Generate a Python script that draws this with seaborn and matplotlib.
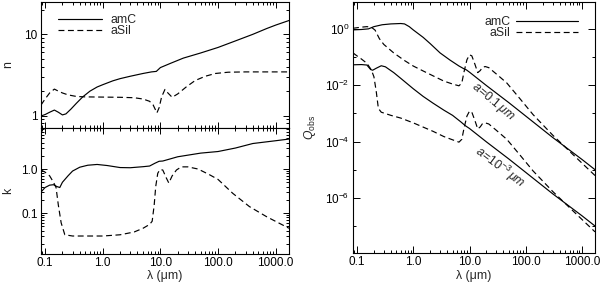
import numpy as np
import pandas as pd
import matplotlib
matplotlib.use("Agg")
import matplotlib.pyplot as plt
import seaborn as sns
from matplotlib.ticker import FixedLocator, FixedFormatter, LogLocator, NullFormatter

# ---------------- data ----------------
# refractive index n
n_amc_lam = [0.085, 0.10, 0.12, 0.145, 0.17, 0.20, 0.23, 0.28, 0.35, 0.45, 0.6, 0.8, 1.0, 1.5, 2.0, 3.0,
             5.0, 7.0, 8.5, 10, 15, 25, 50, 100, 200, 400, 700, 1000, 1700]
n_amc = [0.99, 1.03, 1.10, 1.17, 1.10, 1.02, 1.05, 1.2, 1.42, 1.7, 2.0, 2.25, 2.4, 2.68, 2.85, 3.05,
         3.3, 3.45, 3.5, 3.9, 4.4, 5.1, 5.9, 6.9, 8.3, 10.0, 11.8, 13.0, 14.8]
n_asil_lam = [0.085, 0.10, 0.12, 0.145, 0.17, 0.2, 0.25, 0.35, 0.5, 1, 2, 3.5, 5, 6.5, 7.5, 8.7, 9.5,
              10.5, 12, 13.5, 16, 20, 28, 40, 60, 90, 150, 300, 1700]
n_asil = [1.35, 1.6, 1.9, 2.12, 2.0, 1.9, 1.8, 1.72, 1.7, 1.69, 1.68, 1.66, 1.6, 1.5, 1.35, 1.08, 1.25,
          1.7, 2.1, 1.9, 1.68, 1.85, 2.25, 2.7, 3.05, 3.3, 3.42, 3.45, 3.45]

# absorption index k
k_amc_lam = [0.085, 0.1, 0.12, 0.14, 0.16, 0.18, 0.2, 0.25, 0.3, 0.4, 0.55, 0.8, 1.2, 2, 3, 5, 6.5, 8.0,
             9.5, 11, 20, 50, 100, 200, 400, 1000, 1700]
k_amc = [0.3, 0.38, 0.43, 0.44, 0.40, 0.38, 0.5, 0.7, 0.9, 1.1, 1.22, 1.27, 1.2, 1.08, 1.07, 1.13, 1.17,
         1.35, 1.5, 1.52, 1.9, 2.3, 2.5, 3.0, 3.8, 4.4, 4.8]
k_asil_lam = [0.085, 0.1, 0.12, 0.14, 0.155, 0.17, 0.19, 0.22, 0.3, 1, 2, 3.5, 5, 6.5, 7.2, 7.8, 8.3, 9,
              9.8, 11, 12.5, 14, 16, 19, 23, 30, 45, 70, 100, 180, 350, 700, 1700]
k_asil = [0.95, 0.85, 0.7, 0.5, 0.38, 0.15, 0.06, 0.032, 0.03, 0.03, 0.032, 0.037, 0.045, 0.055, 0.065,
          0.15, 0.4, 0.8, 0.97, 0.95, 0.65, 0.48, 0.7, 0.95, 1.12, 1.12, 1.0, 0.75, 0.58, 0.28, 0.14,
          0.082, 0.045]

# Q_abs, a = 0.1 micron
q1_amc_lam = [0.085, 0.12, 0.16, 0.2, 0.28, 0.4, 0.6, 0.7, 0.85, 1.0, 1.5, 2.0, 3.0, 4.5, 6.5, 8.0, 8.8,
              10, 20, 50, 100, 300, 1000, 1700]
q1_amc = [0.92, 0.95, 1.0, 1.2, 1.4, 1.5, 1.55, 1.5, 1.2, 0.92, 0.5, 0.3, 0.14, 0.078, 0.048, 0.038,
          0.035, 0.029, 0.0097, 2.4e-3, 8.0e-4, 1.4e-4, 2.3e-5, 1.0e-5]
q1_asil_lam = [0.085, 0.12, 0.15, 0.18, 0.21, 0.25, 0.3, 0.45, 0.7, 1.0, 1.5, 2.25, 3.5, 5, 6.5, 7.3, 8,
               9, 10, 11, 12.5, 14, 15.5, 17, 19, 22, 30, 46, 80, 135, 300, 600, 1000, 1700]
q1_asil = [1.05, 1.15, 1.2, 1.15, 0.9, 0.45, 0.28, 0.14, 0.075, 0.048, 0.032, 0.0215, 0.014, 0.011,
           0.0095, 0.012, 0.03, 0.08, 0.12, 0.11, 0.055, 0.028, 0.033, 0.043, 0.046, 0.042, 0.025,
           0.012, 3.2e-3, 9e-4, 1.7e-4, 4.5e-5, 1.7e-5, 6.2e-6]

# Q_abs, a = 1e-3 micron
q2_amc_lam = [0.085, 0.12, 0.15, 0.175, 0.19, 0.22, 0.27, 0.32, 0.45, 0.6, 1.0, 1.5, 2.25, 3.5, 5, 7,
              8.5, 10, 20, 50, 100, 300, 1000, 1700]
q2_amc = [0.053, 0.054, 0.052, 0.036, 0.034, 0.04, 0.049, 0.045, 0.028, 0.0175, 0.0075, 0.004, 0.0023,
          0.0013, 8.5e-4, 5.0e-4, 3.6e-4, 2.9e-4, 9.7e-5, 2.4e-5, 8.0e-6, 1.4e-6, 2.3e-7, 1.0e-7]
q2_asil_lam = [0.085, 0.1, 0.12, 0.15, 0.18, 0.2, 0.22, 0.24, 0.27, 0.4, 0.6, 1.0, 2.25, 3.5, 5, 6.5,
               7.3, 8, 9, 10, 11, 12.5, 14, 15.5, 17, 19, 22, 30, 46, 80, 135, 300, 600, 1000, 1700]
q2_asil = [0.14, 0.11, 0.085, 0.06, 0.035, 0.02, 0.006, 0.0015, 1.1e-3, 8.5e-4, 6.8e-4, 4.6e-4, 2.3e-4,
           1.5e-4, 1.15e-4, 9.5e-5, 1.2e-4, 3.0e-4, 8e-4, 1.2e-3, 1.1e-3, 5.5e-4, 2.8e-4, 3.3e-4,
           4.3e-4, 4.6e-4, 4.2e-4, 2.5e-4, 1.2e-4, 3.2e-5, 9e-6, 1.7e-6, 4.5e-7, 1.7e-7, 6.2e-8]

x_ticks = [0.1, 1, 10, 100, 1000]
x_ticklabels = ["0.1", "1.0", "10.0", "100.0", "1000.0"]

# ---------------- style ----------------
sns.set_style("ticks")
plt.rcParams['font.family'] = ['Liberation Sans', 'DejaVu Sans']
plt.rcParams['mathtext.fontset'] = 'custom'
plt.rcParams['mathtext.rm'] = 'Liberation Sans'
plt.rcParams['mathtext.it'] = 'Liberation Sans:italic'
plt.rcParams['axes.linewidth'] = 0.8
FS = 8.8
TFS = 8.5

fig = plt.figure(figsize=(6, 2.88), dpi=100)
W, H = 600.0, 288.0
ax1 = fig.add_axes([41 / W, 1 - 127.7 / H, 248 / W, 125.7 / H])
ax2 = fig.add_axes([41 / W, 1 - 254 / H, 248 / W, 126.3 / H])
ax3 = fig.add_axes([353 / W, 1 - 253 / H, 242 / W, 251 / H])

LW = 0.85
DASH = [5.0, 3.0]


def draw(ax, lam, val, dashed):
    sns.lineplot(x=lam, y=val, ax=ax, color='black', lw=LW, sort=False, estimator=None)
    ln = ax.lines[-1]
    if dashed:
        ln.set_dashes(DASH)
    return ln


h1 = draw(ax1, n_amc_lam, n_amc, False)
h2 = draw(ax1, n_asil_lam, n_asil, True)
draw(ax2, k_amc_lam, k_amc, False)
draw(ax2, k_asil_lam, k_asil, True)
g1 = draw(ax3, q1_amc_lam, q1_amc, False)
g2 = draw(ax3, q1_asil_lam, q1_asil, True)
draw(ax3, q2_amc_lam, q2_amc, False)
draw(ax3, q2_asil_lam, q2_asil, True)

for ax in (ax1, ax2, ax3):
    ax.set_xscale('log')
    ax.set_yscale('log')
    ax.set_xlim(0.085, 1700)
    ax.xaxis.set_major_locator(FixedLocator(x_ticks))
    ax.xaxis.set_major_formatter(FixedFormatter(x_ticklabels))
    ax.xaxis.set_minor_locator(LogLocator(base=10, subs=np.arange(2, 10)))
    ax.xaxis.set_minor_formatter(NullFormatter())
    ax.tick_params(which='both', direction='in', top=True, right=True, labelsize=TFS, width=0.7,
                   colors='black')
    ax.tick_params(axis='x', which='both', pad=2.5)
    ax.tick_params(axis='y', which='both', pad=2.5)
    for s in ax.spines.values():
        s.set_linewidth(0.8)
        s.set_color('black')
    ax.set_xlabel('')
    ax.set_ylabel('')

for ax in (ax1, ax2):
    ax.tick_params(which='major', length=4)
    ax.tick_params(which='minor', length=2)
ax3.tick_params(which='major', length=5)
ax3.tick_params(which='minor', length=2.5)

ax1.set_ylim(0.71, 25)
ax1.yaxis.set_major_locator(FixedLocator([1, 10]))
ax1.yaxis.set_major_formatter(FixedFormatter(['1', '10']))
ax1.yaxis.set_minor_locator(LogLocator(base=10, subs=np.arange(2, 10)))
ax1.yaxis.set_minor_formatter(NullFormatter())
ax1.tick_params(labelbottom=False)

ax2.set_ylim(0.0117, 8.7)
ax2.yaxis.set_major_locator(FixedLocator([0.1, 1]))
ax2.yaxis.set_major_formatter(FixedFormatter(['0.1', '1.0']))
ax2.yaxis.set_minor_locator(LogLocator(base=10, subs=np.arange(2, 10)))
ax2.yaxis.set_minor_formatter(NullFormatter())

ax3.set_ylim(1.1e-8, 9)
ax3.yaxis.set_major_locator(FixedLocator([1, 1e-2, 1e-4, 1e-6]))
ax3.yaxis.set_major_formatter(FixedFormatter([r'$10^{0}$', r'$10^{-2}$', r'$10^{-4}$', r'$10^{-6}$']))
ax3.yaxis.set_minor_locator(FixedLocator([1e-1, 1e-3, 1e-5, 1e-7]))
ax3.yaxis.set_minor_formatter(NullFormatter())

# axis titles
ax1.set_ylabel('n', fontsize=FS)
ax1.yaxis.set_label_coords(-0.11, 0.5)
ax2.set_ylabel('k', fontsize=FS)
ax2.yaxis.set_label_coords(-0.11, 0.5)
ax3.set_ylabel(r'$Q_{\rm obs}$', fontsize=FS)
ax3.yaxis.set_label_coords(-0.145, 0.5)
ax2.set_xlabel('λ (μm)', fontsize=FS)
ax2.xaxis.set_label_coords(0.5, -0.13)
ax3.set_xlabel('λ (μm)', fontsize=FS)
ax3.xaxis.set_label_coords(0.5, -0.068)

# legends
leg1 = ax1.legend([h1, h2], ['amC', 'aSil'], loc='upper left', bbox_to_anchor=(0.068, 0.905),
                  frameon=False, fontsize=FS, handlelength=3.6, handletextpad=0.7,
                  labelspacing=-0.05, borderpad=0, borderaxespad=0)
leg3 = ax3.legend([g1, g2], ['amC', 'aSil'], loc='upper right', bbox_to_anchor=(0.93, 0.945),
                  frameon=False, fontsize=FS, handlelength=5.1, handletextpad=0.4,
                  labelspacing=-0.05, borderpad=0, borderaxespad=0, markerfirst=False)

# size annotations
ax3.text(26, 2.6e-3, r'$a\!=\!0.1\,\mu m$', fontsize=FS, rotation=-40,
         ha='center', va='center', rotation_mode='anchor')
ax3.text(34, 1.2e-5, r'$a\!=\!10^{-3}\,\mu m$', fontsize=FS, rotation=-37,
         ha='center', va='center', rotation_mode='anchor')

fig.savefig('out.png', dpi=100)
